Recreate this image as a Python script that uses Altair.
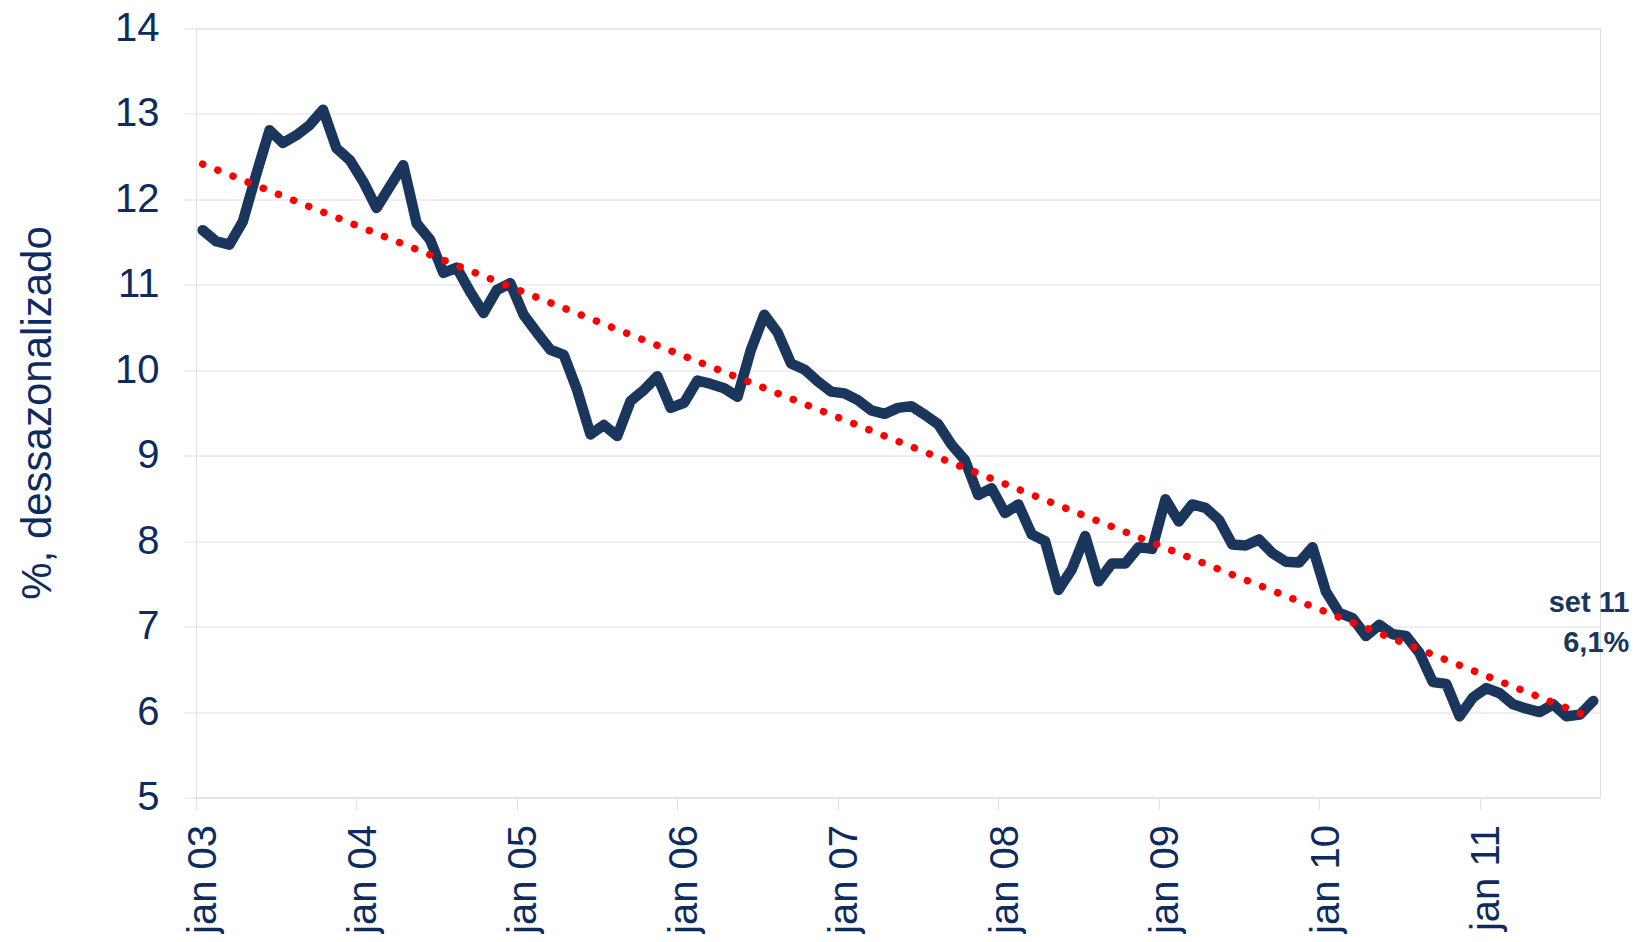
import altair as alt
import pandas as pd

# Monthly unemployment rate, jan 03 .. set 11 (seasonally adjusted, %)
values = [
    11.64, 11.51, 11.47, 11.74, 12.29, 12.81, 12.66, 12.75, 12.87, 13.05, 12.60, 12.46,
    12.21, 11.90, 12.15, 12.40, 11.72, 11.53, 11.14, 11.20, 10.92, 10.67, 10.94, 11.02,
    10.65, 10.44, 10.24, 10.18, 9.77, 9.25, 9.36, 9.23, 9.64, 9.77, 9.93, 9.56,
    9.62, 9.88, 9.84, 9.79, 9.69, 10.24, 10.65, 10.44, 10.08, 10.01, 9.87, 9.75,
    9.73, 9.65, 9.53, 9.49, 9.56, 9.58, 9.48, 9.37, 9.13, 8.95, 8.54, 8.62,
    8.33, 8.43, 8.08, 8.00, 7.43, 7.67, 8.06, 7.53, 7.74, 7.74, 7.93, 7.91,
    8.49, 8.23, 8.43, 8.39, 8.25, 7.96, 7.95, 8.02, 7.86, 7.76, 7.75, 7.93,
    7.41, 7.16, 7.10, 6.89, 7.02, 6.91, 6.89, 6.69, 6.35, 6.33, 5.95, 6.17,
    6.28, 6.22, 6.09, 6.04, 6.00, 6.09, 5.95, 5.97, 6.13,
]
month_index = list(range(len(values)))
tick_labels = ["jan 03", "jan 04", "jan 05", "jan 06", "jan 07",
               "jan 08", "jan 09", "jan 10", "jan 11"]
y_ticks = [5, 6, 7, 8, 9, 10, 11, 12, 13, 14]
annotation_lines = ["set 11", "6,1%"]
y_title = "%, dessazonalizado"

df = pd.DataFrame({"i": month_index, "v": values})
last = df.tail(1)

NAVY = "#1b365d"
LABEL = "#0d2b5e"
GRID = "#e0e0e0"
FONT = "Liberation Sans"

label_arr = "[" + ",".join("'" + t + "'" for t in tick_labels) + "]"

x_enc = alt.X(
    "i:Q",
    scale=alt.Scale(domain=[-0.5, 104.5], nice=False, zero=False),
    axis=alt.Axis(
        values=[12 * k - 0.5 for k in range(len(tick_labels))],
        labelExpr=label_arr + "[round((datum.value + 0.5) / 12)]",
        labelAngle=270,
        labelFont=FONT,
        labelFontSize=40,
        labelColor=LABEL,
        labelPadding=15,
        labelOffset=7,
        labelOverlap=False,
        labelBound=False,
        labelFlush=False,
        tickSize=12,
        tickColor=GRID,
        domainColor=GRID,
        grid=False,
        title=None,
    ),
)
y_enc = alt.Y(
    "v:Q",
    scale=alt.Scale(domain=[5, 14], nice=False, zero=False),
    axis=alt.Axis(
        values=y_ticks,
        format="d",
        labelFont=FONT,
        labelFontSize=40,
        labelColor=LABEL,
        labelPadding=25,
        tickSize=12,
        tickColor=GRID,
        domainColor=GRID,
        gridColor=GRID,
        grid=True,
        title=y_title,
        titleFont=FONT,
        titleFontSize=42,
        titleFontWeight="normal",
        titleColor=LABEL,
        titleX=-146,
        titleY=384,
        titleAngle=270,
        titleAlign="center",
        titleBaseline="alphabetic",
    ),
)

line = alt.Chart(df).mark_line(
    color=NAVY, strokeWidth=10.5, strokeJoin="round", strokeCap="round"
).encode(x=x_enc, y=y_enc)

trend = alt.Chart(df).transform_regression("i", "v").mark_line(
    color="#ff0000", strokeWidth=7.5, strokeCap="round", strokeDash=[0.1, 16.2]
).encode(x="i:Q", y="v:Q")

note = alt.Chart(last).mark_text(
    text=annotation_lines,
    align="right",
    baseline="alphabetic",
    dx=36,
    dy=-89,
    lineHeight=40,
    font=FONT,
    fontSize=29,
    fontWeight="bold",
    color=NAVY,
).encode(x="i:Q", y="v:Q")

chart = alt.layer(line, trend, note).properties(
    width=1404,
    height=769,
    autosize=alt.AutoSizeParams(type="none"),
    padding={"left": 188, "top": 20.5, "right": 31, "bottom": 136},
).configure_view(stroke=None).configure(background="white")

chart.save("out.html", embed_options={"renderer": "svg", "actions": False})
